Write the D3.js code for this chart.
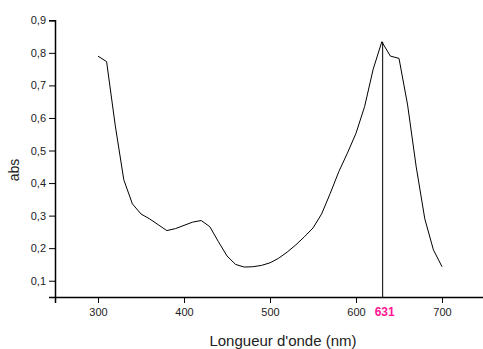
<!DOCTYPE html>
<html>
<head>
<meta charset="utf-8">
<script src="https://cdn.jsdelivr.net/npm/d3@7"></script>
<style>
  body { margin: 0; background: #fff; }
  svg { display: block; font-family: "Liberation Sans", Arial, sans-serif; }
</style>
</head>
<body>
<svg id="chart" width="483" height="349"></svg>
<script>
// wavelength (nm) and absorbance
var wavelengths = [300, 310, 320, 330, 340, 350, 360, 370, 380, 390, 400, 410, 420, 430, 440,
                   450, 460, 470, 480, 490, 500, 510, 520, 530, 540, 550, 560, 570, 580, 590,
                   600, 610, 620, 630, 640, 650, 660, 670, 680, 690, 700];
var absorbance = [0.790, 0.773, 0.578, 0.410, 0.336, 0.305, 0.290, 0.272, 0.254, 0.260, 0.270, 0.280, 0.285, 0.266, 0.220,
                  0.176, 0.150, 0.142, 0.143, 0.147, 0.155, 0.169, 0.188, 0.210, 0.235, 0.262, 0.305, 0.368, 0.435, 0.492,
                  0.553, 0.635, 0.750, 0.834, 0.790, 0.783, 0.640, 0.450, 0.290, 0.195, 0.143];
var xTicks = [300, 400, 500, 600, 700];
var yTicks = [0.1, 0.2, 0.3, 0.4, 0.5, 0.6, 0.7, 0.8, 0.9];
var peakNm = 631;
var peakAbs = 0.834;

var svg = d3.select("#chart");

var x = d3.scaleLinear().domain([250, 750]).range([55, 485]);
var y = d3.scaleLinear().domain([0.05, 0.9]).range([297, 20.3]);

var fmt = function(d) { return d3.format(".1f")(d).replace(".", ","); };

// minor ticks
var xMinor = d3.range(250, 751, 50);
var yMinor = d3.range(0.05, 0.91, 0.05);

var gx = svg.append("g").attr("transform", "translate(0,297)");
gx.call(d3.axisBottom(x).tickValues(xMinor).tickSize(3).tickFormat(""));
gx.call(d3.axisBottom(x).tickValues(xTicks).tickSize(6).tickPadding(5).tickFormat(d3.format("d")));

var gy = svg.append("g").attr("transform", "translate(55,0)");
gy.call(d3.axisLeft(y).tickValues(yMinor).tickSize(3).tickFormat(""));
gy.call(d3.axisLeft(y).tickValues(yTicks).tickSize(6).tickPadding(3).tickFormat(fmt));

svg.selectAll(".domain").attr("stroke", "#000").attr("stroke-width", 1.5);
svg.selectAll(".tick line").attr("stroke", "#000").attr("stroke-width", 1);
svg.selectAll(".tick text").attr("font-size", 11).attr("fill", "#222")
  .attr("font-family", "Liberation Sans, Arial, sans-serif");

// spectrum
var data = wavelengths.map(function(w, i) { return [w, absorbance[i]]; });
svg.append("path")
  .datum(data)
  .attr("fill", "none")
  .attr("stroke", "#000")
  .attr("stroke-width", 1)
  .attr("d", d3.line().x(function(d) { return x(d[0]); }).y(function(d) { return y(d[1]); }));

// peak marker
svg.append("line")
  .attr("x1", x(peakNm)).attr("x2", x(peakNm))
  .attr("y1", y(peakAbs)).attr("y2", 297)
  .attr("stroke", "#000").attr("stroke-width", 1);
svg.append("text")
  .attr("x", x(peakNm) + 2).attr("y", 316)
  .attr("text-anchor", "middle")
  .attr("font-size", 12).attr("font-weight", "bold")
  .attr("fill", "#ff1493")
  .text(peakNm);

// axis titles
svg.append("text")
  .attr("x", 283).attr("y", 346)
  .attr("text-anchor", "middle")
  .attr("font-size", 15).attr("fill", "#222")
  .text("Longueur d'onde (nm)");
svg.append("text")
  .attr("transform", "translate(19,170) rotate(-90)")
  .attr("text-anchor", "middle")
  .attr("font-size", 14).attr("fill", "#222")
  .text("abs");
</script>
</body>
</html>
